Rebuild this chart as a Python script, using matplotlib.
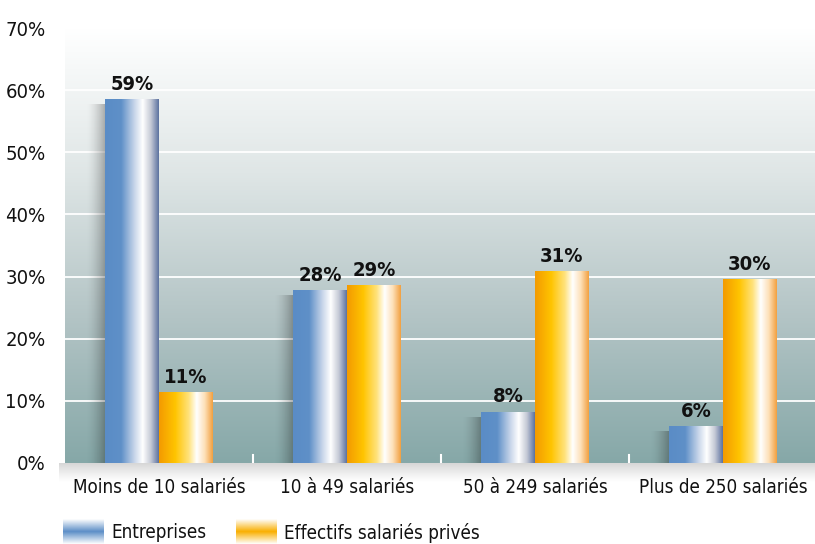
import numpy as np
import matplotlib
matplotlib.use("Agg")
import matplotlib.pyplot as plt
from matplotlib.colors import LinearSegmentedColormap
from matplotlib import font_manager

categories = ["Moins de 10 salariés", "10 à 49 salariés", "50 à 249 salariés", "Plus de 250 salariés"]
entreprises = [58.5, 27.7, 8.2, 5.8]
effectifs = [11.3, 28.5, 30.8, 29.5]
labels_entreprises = ["59%", "28%", "8%", "6%"]
labels_effectifs = ["11%", "29%", "31%", "30%"]
series_names = ["Entreprises", "Effectifs salariés privés"]
yticks = [0, 10, 20, 30, 40, 50, 60, 70]

names = {f.name for f in font_manager.fontManager.ttflist}
if "Liberation Sans Narrow" in names:
    plt.rcParams["font.family"] = ["Liberation Sans Narrow", "DejaVu Sans"]
else:
    plt.rcParams["font.family"] = ["DejaVu Sans"]
    plt.rcParams["font.stretch"] = "condensed"

blue_stops = [(0, "#5a8cc6"), (0.3, "#5f90c8"), (0.55, "#c9d6ea"), (0.7, "#ffffff"), (0.85, "#c5cad6"), (1, "#5c72a0")]
orange_stops = [(0, "#f39a00"), (0.3, "#ffc400"), (0.55, "#ffe27a"), (0.7, "#ffffff"), (0.85, "#fde0b8"), (1, "#f2a040")]
blue_cmap = LinearSegmentedColormap.from_list("blue", blue_stops)
orange_cmap = LinearSegmentedColormap.from_list("orange", orange_stops)
bg_cmap = LinearSegmentedColormap.from_list("bg", ["#86a8a8", "#b3c4c5", "#dfe6e6", "#ffffff"])

W, H = 815, 544
fig = plt.figure(figsize=(W / 100, H / 100), dpi=100)
fig.patch.set_facecolor("white")

left, right, top, bottom = 65, 817, 28, 463
ax = fig.add_axes([left / W, 1 - bottom / H, (right - left) / W, (bottom - top) / H])

# soft shadow under the plot area
sh = fig.add_axes([(left - 6) / W, 1 - (bottom + 20) / H, (right - left + 6) / W, 20 / H], zorder=-1)
shadow = np.zeros((50, 2, 4))
shadow[..., 3] = np.linspace(0.22, 0, 50)[:, None] ** 1.2
sh.imshow(shadow, aspect="auto", extent=(0, 1, 0, 1))
sh.axis("off")

ax.set_xlim(-0.5, 3.5)
ax.set_ylim(0, 70)
grad = np.linspace(0, 1, 256)[:, None]
ax.imshow(grad, cmap=bg_cmap, origin="lower", aspect="auto", extent=(-0.5, 3.5, 0, 70), zorder=0)

for y in yticks[1:-1]:
    ax.axhline(y, color="white", lw=1.3, zorder=1)

w = 0.287
hgrad = np.linspace(0, 1, 256)[None, :]


def shade(x0, h):
    s = np.zeros((2, 40, 4))
    s[..., 3] = np.linspace(0, 0.45, 40)[None, :] ** 1.6
    ax.imshow(s, aspect="auto", extent=(x0 - 0.1, x0, 0, h - 0.8), zorder=2)


for i in range(len(categories)):
    xb = i - w
    xo = i
    shade(xb, entreprises[i])
    ax.imshow(hgrad, cmap=blue_cmap, aspect="auto", extent=(xb, xb + w, 0, entreprises[i]), zorder=3)
    ax.imshow(hgrad, cmap=orange_cmap, aspect="auto", extent=(xo, xo + w, 0, effectifs[i]), zorder=3)
    ax.text(xb + w / 2, entreprises[i] + 0.9, labels_entreprises[i], ha="center", va="bottom",
            fontsize=14.5, fontweight="bold", color="#111111", zorder=4)
    ax.text(xo + w / 2, effectifs[i] + 0.9, labels_effectifs[i], ha="center", va="bottom",
            fontsize=14.5, fontweight="bold", color="#111111", zorder=4)

# separators between groups
for b in [0.5, 1.5, 2.5]:
    ax.plot([b, b], [0, 1.3], color="white", lw=1.5, zorder=2)

ax.set_xlim(-0.5, 3.5)
ax.set_ylim(0, 70)
ax.set_xticks(range(len(categories)))
ax.set_xticklabels(categories, fontsize=13.5, color="#111111")
ax.set_yticks(yticks)
ax.set_yticklabels([f"{v}%" for v in yticks], fontsize=14.5, color="#111111")
ax.tick_params(axis="both", length=0)
ax.tick_params(axis="x", pad=11)
ax.tick_params(axis="y", pad=14)
for s in ax.spines.values():
    s.set_visible(False)

# legend
leg_x = [63, 236]
text_x = [111, 284]
for k, cm in enumerate([blue_cmap, orange_cmap]):
    la = fig.add_axes([leg_x[k] / W, 0, 41 / W, 25 / H])
    vg = np.abs(np.linspace(-1, 1, 256))[:, None]
    la.imshow(1 - vg * 0.7, cmap=LinearSegmentedColormap.from_list(
        "l", [cm(0.15), cm(0.7)]).reversed(), aspect="auto", vmin=0.3, vmax=1.0)
    la.axis("off")
    fig.text(text_x[k] / W, 1 - 533 / H, series_names[k], fontsize=13.5, color="#111111", va="center")

fig.savefig("out.png", dpi=100)
